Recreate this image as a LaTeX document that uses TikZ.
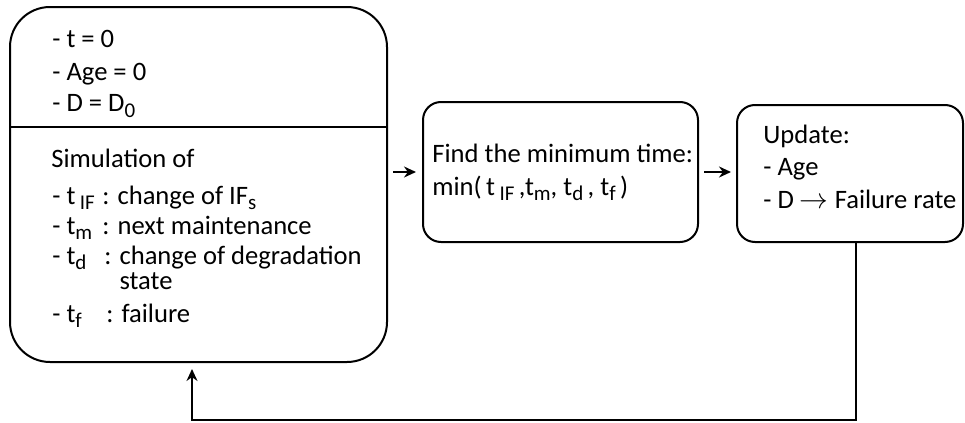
\documentclass[tikz,border=0pt]{standalone}
\usepackage{fontspec}
\setmainfont{Carlito}
\usetikzlibrary{arrows.meta}
% subscript-like lowered small text
\newcommand\sbs[1]{\raisebox{-0.42ex}{\fontsize{10.5}{10.5}\selectfont #1}}
% fixed-width label so the colons line up
\newcommand\lbl[2]{\makebox[#1][l]{#2}}
% a description that wraps onto a tight second line
\newcommand\twolines[2]{{\renewcommand\arraystretch{0.8}\begin{tabular}[t]{@{}l@{}}#1\\#2\end{tabular}}}
\tikzset{
  box/.style={draw, line width=1pt, inner sep=0pt},
  txt/.style={anchor=base west, inner sep=0pt, font=\fontsize{13.3}{16}\selectfont},
  arr/.style={line width=0.8pt, -{Stealth[length=6pt,width=5.5pt]}},
}
\begin{document}
\begin{tikzpicture}[x=0.5pt,y=-0.5pt]
\useasboundingbox (0,0) rectangle (965,423);

% boxes
\node[box, rounded corners=20pt, minimum width=188.5pt, minimum height=177.5pt] (init) at (198.5,184.5) {};
\draw[line width=1pt] (init.west |- 0,127) -- (init.east |- 0,127);
\node[box, rounded corners=9pt, minimum width=137.5pt, minimum height=70pt] (find) at (560.5,172) {};
\node[box, rounded corners=9pt, minimum width=113pt, minimum height=68.5pt] (upd) at (850,173.5) {};

% initial values
\node[txt] (i1) at (52,47) {- t = 0};
\node[txt] (i2) at (52,80) {- Age = 0};
\node[txt] (i3) at (52,112) {- D = D\sbs{0}};

% simulated events
\node[txt] (s0) at (51,167) {Simulation of};
\node[txt] (s1) at (52,204) {\lbl{25pt}{- t\,\sbs{IF}}: change of IF\sbs{s}};
\node[txt] (s2) at (52,234) {\lbl{25pt}{- t\sbs{m}}: next maintenance};
\node[txt] (s3) at (52,264) {\lbl{26pt}{- t\sbs{d}}: \twolines{change of degradation}{state}};
\node[txt] (s4) at (52,322) {\lbl{27pt}{- t\sbs{f}}: failure};

% minimum time
\node[txt] (f1) at (432,162) {Find the minimum time:};
\node[txt] (f2) at (432,195) {min(\,t\,\sbs{IF}\,,t\sbs{m}, t\sbs{d}\,, t\sbs{f}\,)};

% update step
\node[txt] (u1) at (763,143) {Update:};
\node[txt] (u2) at (763,175) {- Age};
\node[txt] (u3) at (763,208) {- D $\rightarrow$ Failure rate};

% connectors
\draw[arr, shorten <=2.5pt, shorten >=3pt] (init.east |- find.west) -- (find.west);
\draw[arr, shorten <=2.5pt, shorten >=2.5pt] (find.east) -- (find.east -| upd.west);
\coordinate (c1) at (856,420);
\coordinate (c2) at (192,420);
\draw[arr, shorten >=3pt] (upd.south -| c1) -- (c1) -- (c2) -- (init.south -| c2);
\end{tikzpicture}
\end{document}
